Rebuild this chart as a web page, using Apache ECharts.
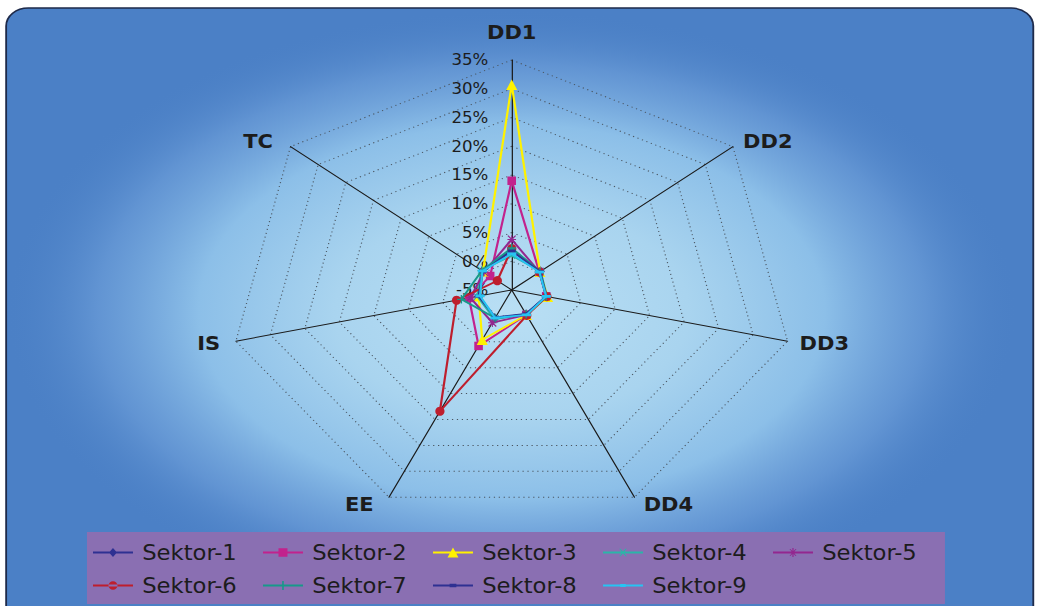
<!DOCTYPE html>
<html>
<head>
<meta charset="utf-8">
<script src="https://cdn.jsdelivr.net/npm/echarts@6/dist/echarts.min.js"></script>
<style>
  html, body { margin: 0; padding: 0; background: #ffffff; width: 1037px; height: 606px; overflow: hidden; }
  /* the plot is laid out in a narrower box and widened, giving the radar its wide elliptical web */
  #chart { width: 843px; height: 606px; transform: scaleX(1.2301); transform-origin: 0 0; }
</style>
</head>
<body>
<div id="chart"></div>
<script>
// indicators, clockwise from the top
const categories = ['DD1', 'DD2', 'DD3', 'DD4', 'EE', 'IS', 'TC'];
const valueMin = -5;
const valueMax = 35;
const valueSplits = 8;

const seriesNames = ['Sektor-1', 'Sektor-2', 'Sektor-3', 'Sektor-4', 'Sektor-5',
                     'Sektor-6', 'Sektor-7', 'Sektor-8', 'Sektor-9'];

// shares in %, same order as categories
const sektor1 = [2.0, 0.2, 0.0, -0.3, 0.5, -0.3, 0.3];
const sektor2 = [14.0, 0.0, 0.0, -0.2, 5.8, 1.2, -1.1];
const sektor3 = [30.7, 0.1, 0.2, -0.2, 4.6, -0.2, 0.2];
const sektor4 = [1.0, 0.2, 0.1, -0.3, 0.6, 0.0, 0.5];
const sektor5 = [3.8, 0.0, 0.0, -0.2, 1.3, 1.0, 0.0];
const sektor6 = [2.2, 0.0, 0.1, -0.1, 18.4, 3.0, -2.4];
const sektor7 = [2.3, 0.1, 0.0, -0.3, 0.4, 2.3, 0.4];
const sektor8 = [1.8, 0.1, 0.0, -0.4, 0.3, -0.2, 0.2];
const sektor9 = [1.3, 0.0, 0.0, -0.2, 0.4, -0.4, 0.3];
const seriesValues = [sektor1, sektor2, sektor3, sektor4, sektor5, sektor6, sektor7, sektor8, sektor9];

const seriesColors = ['#2e3192', '#c2228d', '#fff200', '#2bb5a8', '#93278f',
                      '#be1e2d', '#17998a', '#2e3192', '#27c4f2'];

const SX = 1.2301;                 // horizontal widening of the layout box
const FONT = '"DejaVu Sans Condensed", "Liberation Sans Narrow", "Liberation Sans", sans-serif';
const LEGEND_FONT_SIZE = 20.5;
const LEGEND_PITCH = 170 / SX;     // distance from one legend entry to the next
const LEGEND_ICON_W = 32.5;
const LEGEND_TEXT_PAD = 2.5;

// ECharts lays radar axes counter-clockwise, so feed them in that order
const axisOrder = [0, 6, 5, 4, 3, 2, 1];

// extra room around each axis name: [top, right, bottom, left]
const namePadding = {
  DD1: [0, 0, 10, 0],
  DD2: [0, 0, 0, 2],
  DD3: [0, 0, 0, 2],
  DD4: [0, 0, 6, 4],
  EE: [0, 9, 6, 0],
  IS: [0, 5, 0, 0],
  TC: [0, 8, 0, 0]
};

// marker shapes used on the lines
const PATH_X = 'path://M1,0L5,4L9,0L10,1L6,5L10,9L9,10L5,6L1,10L0,9L4,5L0,1Z';
const PATH_PLUS = 'path://M4.2,0h1.6v4.2h4.2v1.6h-4.2v4.2h-1.6v-4.2h-4.2v-1.6h4.2Z';
const PATH_STAR = 'path://M4.4,0h1.2v4.4h4.4v1.2h-4.4v4.4h-1.2v-4.4h-4.4v-1.2h4.4Z M1,0L5,4L9,0L10,1L6,5L10,9L9,10L5,6L1,10L0,9L4,5L0,1Z';
const markers = [
  { symbol: 'diamond', size: [7, 10] },
  { symbol: 'rect', size: [7, 8.5] },
  { symbol: 'triangle', size: [9, 10.5] },
  { symbol: PATH_X, size: [6, 7.5] },
  { symbol: PATH_STAR, size: [7, 8.5] },
  { symbol: 'circle', size: [7.5, 9.2] },
  { symbol: PATH_PLUS, size: [7, 8.5] },
  { symbol: 'rect', size: [6.5, 2.8] },
  { symbol: 'rect', size: [7.5, 2.8] }
];

// legend icons: a line with the marker in its middle (layout units, 32.5 x 12)
const LINE = 'M0,5.1h32.5v1.8h-32.5Z ';
const legendIcons = [
  'path://' + LINE + 'M16.25,1.5L19.5,6L16.25,10.5L13,6Z',
  'path://' + LINE + 'M12.6,1.7h7.3v8.6h-7.3Z',
  'path://' + LINE + 'M16.25,1L20.7,11L11.8,11Z',
  'path://' + LINE + 'M13.2,2.2L14.2,2.2L16.25,4.9L18.3,2.2L19.3,2.2L16.8,6L19.3,9.8L18.3,9.8L16.25,7.1L14.2,9.8L13.2,9.8L15.7,6Z',
  'path://' + LINE + 'M15.75,1.5h1v4h3.2v1h-3.2v4h-1v-4h-3.2v-1h3.2Z M13.4,2.4L14.2,2.4L16.25,5.2L18.3,2.4L19.1,2.4L16.8,6L19.1,9.6L18.3,9.6L16.25,6.8L14.2,9.6L13.4,9.6L15.7,6Z',
  'path://' + LINE + 'M12.6,6A3.65,4.3 0 1,0 19.9,6A3.65,4.3 0 1,0 12.6,6Z',
  'path://' + LINE + 'M15.6,1.5h1.3v3.9h3.6v1.2h-3.6v3.9h-1.3v-3.9h-3.6v-1.2h3.6Z',
  'path://' + LINE + 'M13.5,4.3h5.5v3.4h-5.5Z',
  'path://' + LINE + 'M14,4.6h4.5v2.8h-4.5Z'
];

// width of a legend label in the chosen font, so entries can sit on a fixed pitch
const measureCtx = document.createElement('canvas').getContext('2d');
measureCtx.font = LEGEND_FONT_SIZE + 'px ' + FONT;
const legendTextW = measureCtx.measureText('Sektor-1').width;
const legendGap = Math.max(0, LEGEND_PITCH - LEGEND_ICON_W - 5 - LEGEND_TEXT_PAD - legendTextW);

const chart = echarts.init(document.getElementById('chart'), null, { renderer: 'svg' });

const indicators = axisOrder.map(function (i) {
  const name = categories[i];
  const ind = {
    name: name, min: valueMin, max: valueMax,
    nameTextStyle: { padding: namePadding[name] }
  };
  if (i === 0) {
    ind.axisLabel = { show: true };
  }
  return ind;
});

const series = seriesNames.map(function (name, k) {
  return {
    type: 'radar',
    name: name,
    z: 2 + k,
    symbol: markers[k].symbol,
    symbolSize: markers[k].size,
    lineStyle: { color: seriesColors[k], width: 1.8 },
    itemStyle: { color: seriesColors[k], borderWidth: 0 },
    emphasis: { disabled: true },
    data: [{ name: name, value: axisOrder.map(function (i) { return seriesValues[k][i]; }) }]
  };
});

function legendRow(from, to, top) {
  return {
    data: seriesNames.slice(from, to).map(function (n, j) {
      return { name: n, icon: legendIcons[from + j] };
    }),
    left: 75.6,
    top: top,
    orient: 'horizontal',
    padding: 0,
    itemWidth: LEGEND_ICON_W,
    itemHeight: 12,
    itemGap: legendGap,
    symbolKeepAspect: true,
    selectedMode: false,
    textStyle: {
      color: '#1c1c1c', fontSize: LEGEND_FONT_SIZE, fontFamily: FONT,
      padding: [0, 0, 0, LEGEND_TEXT_PAD]
    }
  };
}

chart.setOption({
  animation: false,
  backgroundColor: '#ffffff',
  graphic: [
    {
      type: 'rect', z: -20, silent: true,
      shape: { x: 5, y: 8, width: 835, height: 612, r: [18, 18, 0, 0] },
      style: { fill: '#4b80c6', stroke: '#1e2a4a', lineWidth: 1.5 }
    },
    {
      type: 'circle', z: -19, silent: true,
      x: 416, y: 312, scaleX: 1.36,
      shape: { cx: 0, cy: 0, r: 302 },
      style: {
        fill: {
          type: 'radial', x: 0.5, y: 0.5, r: 0.5,
          colorStops: [
            { offset: 0, color: '#b9dff4' },
            { offset: 0.35, color: '#a9d4ef' },
            { offset: 0.62, color: '#8cbfe8' },
            { offset: 0.82, color: 'rgba(105,155,215,0.75)' },
            { offset: 1, color: 'rgba(76,129,198,0)' }
          ]
        }
      }
    },
    {
      type: 'rect', z: -18, silent: true,
      shape: { x: 70.7, y: 532, width: 697.5, height: 72 },
      style: { fill: '#8a6fb2' }
    }
  ],
  legend: [legendRow(0, 5, 542), legendRow(5, 9, 575)],
  radar: {
    center: [416, 290],
    radius: 230,
    startAngle: 90,
    shape: 'polygon',
    splitNumber: valueSplits,
    indicator: indicators,
    nameGap: 8,
    axisName: { color: '#1c1c1c', fontSize: 19, fontWeight: 'bold', fontFamily: FONT },
    axisLine: { show: true, lineStyle: { color: '#1a1a1a', width: 1 } },
    axisTick: { show: false },
    axisLabel: {
      show: false, formatter: '{value}%', color: '#1c1c1c',
      fontSize: 15, fontFamily: FONT, margin: 19
    },
    splitLine: { show: true, lineStyle: { color: '#4a5560', width: 1, type: [1, 3] } },
    splitArea: { show: false }
  },
  series: series
});
</script>
</body>
</html>
